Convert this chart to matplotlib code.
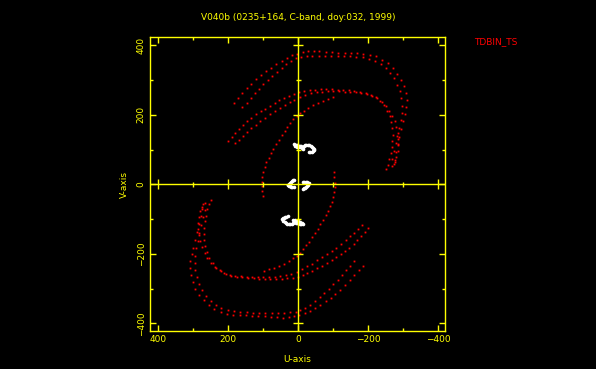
import numpy as np
import matplotlib
matplotlib.use("Agg")
import matplotlib.pyplot as plt

# uv tracks (upper half, in units of the plot); the lower half is the conjugate (-u, -v)
arc_a_u = [184, 172, 160, 147, 134, 120, 106, 92, 78, 63, 48, 33, 18, 3, -12, -28, -44, -60, -78, -96,
           -114, -132, -150, -168, -186, -204, -222, -240, -255, -270, -283, -294, -302, -308, -310, -309,
           -305, -300, -294, -289, -284, -279, -275]
arc_a_v = [235, 248, 262, 276, 290, 303, 315, 326, 336, 346, 356, 364, 371, 376, 380, 383, 384, 383, 381, 380,
           379, 378, 377, 377, 376, 373, 368, 359, 348, 334, 318, 300, 282, 262, 242, 222,
           202, 182, 160, 137, 115, 92, 70]

arc_b_u = [160, 148, 136, 124, 112, 100, 87, 74, 61, 48, 34, 20, 6, -8, -24, -40, -58, -76, -94, -112,
           -130, -148, -166, -184, -202, -220, -236, -250, -263, -274, -283, -290, -294, -296, -295, -292,
           -288, -283, -278, -273, -268]
arc_b_v = [222, 235, 248, 262, 275, 288, 300, 312, 324, 335, 346, 355, 363, 367, 368, 369, 369, 369, 369, 369,
           369, 368, 367, 365, 361, 355, 346, 335, 321, 305, 287, 268, 248, 226, 205, 184,
           162, 140, 118, 95, 74]

arc_c_u = [200, 190, 180, 169, 158, 146, 134, 121, 108, 95, 82, 68, 54, 40, 26, 12, -2, -16, -32, -48,
           -64, -80, -96, -112, -128, -144, -160, -176, -192, -207, -221, -234, -245, -254, -261, -266,
           -269, -270, -269, -267, -264, -260, -255, -250]
arc_c_v = [125, 137, 149, 160, 171, 182, 192, 201, 210, 218, 226, 234, 242, 249, 255, 261, 266, 269, 271, 272,
           273, 273, 273, 272, 271, 270, 268, 266, 263, 258, 250, 240, 227, 212, 196, 179,
           161, 143, 125, 107, 90, 72, 56, 45]

arc_d_u = [181, 170, 159, 147, 135, 122, 109, 95, 81, 67, 53, 39, 25, 11, -4, -20, -36, -52, -68, -84,
           -100, -116, -132, -148, -164, -180, -196, -211, -225, -238, -250, -260, -268, -275, -280, -284,
           -286, -286, -284, -280, -276, -272, -268]
arc_d_v = [118, 128, 139, 150, 161, 172, 182, 192, 201, 210, 219, 228, 236, 244, 251, 257, 262, 265, 267, 268,
           268, 268, 267, 266, 265, 263, 260, 255, 248, 238, 226, 212, 197, 181, 164, 147,
           130, 112, 95, 78, 65, 58, 53]

arc_e_u = [102, 103, 104, 105, 103, 100, 96, 91, 85, 78, 71, 63, 55, 47, 39, 31, 23, 14, 5, -5,
           -15, -28, -42, -56, -70, -84, -98]
arc_e_v = [-35, -20, -5, 8, 22, 36, 50, 63, 76, 89, 102, 115, 128, 141, 153, 165, 176, 187, 197, 205,
           211, 220, 228, 234, 240, 245, 250]

# short baselines (white)
short1_u = [12, 9, 6, 3, 0, -3, -6, -9, -12, -15, -19, -23, -27, -31, -35, -39, -43, -46, -45, -42, -38, -34, -30,
            10, 5, 0, -5, -10, -14]
short1_v = [115, 114, 113, 112, 111, 111, 110, 109, 108, 110, 113, 114, 114, 113, 111, 108, 105, 101, 98, 96, 94, 93, 92,
            110, 108, 107, 106, 104, 103]
short2_u = [12, 15, 18, 21, 24, 27, 29, 30, 28, 25, 21, 17, 13]
short2_v = [13, 12, 10, 8, 5, 2, -1, -3, -5, -6, -7, -7, -7]

red_arcs = [(arc_a_u, arc_a_v), (arc_b_u, arc_b_v), (arc_c_u, arc_c_v),
            (arc_d_u, arc_d_v), (arc_e_u, arc_e_v)]
white_arcs = [(short1_u, short1_v), (short2_u, short2_v)]

title = 'V040b (0235+164, C-band, doy:032, 1999)'
yellow = '#ffff00'

fig = plt.figure(figsize=(5.96, 3.69), dpi=100, facecolor='black')
ax = fig.add_axes([150/596, 1 - 331/369, 295/596, 294/369], facecolor='black')

for u, v in red_arcs:
    u = np.array(u)
    v = np.array(v)
    ax.plot(u, v, 's', color='#ff0000', ms=1.3, mew=0)
    ax.plot(-u, -v, 's', color='#ff0000', ms=1.3, mew=0)

for u, v in white_arcs:
    u = np.array(u)
    v = np.array(v)
    ax.plot(u, v, 'o', color='white', ms=2.6, mew=0)
    ax.plot(-u, -v, 'o', color='white', ms=2.6, mew=0)

# axes through the origin, with crossing ticks
ax.axhline(0, color=yellow, lw=1)
ax.axvline(0, color=yellow, lw=1)
major = [-400, -200, 200, 400]
minor = [-300, -100, 100, 300]
ax.plot(major, [0]*4, '|', color=yellow, ms=7, mew=1)
ax.plot(minor, [0]*4, '|', color=yellow, ms=3.6, mew=1)
ax.plot([0]*4, major, '_', color=yellow, ms=7, mew=1)
ax.plot([0]*4, minor, '_', color=yellow, ms=3.6, mew=1)

ax.set_xlim(423.7, -419)
ax.set_ylim(-422.2, 423.9)

ticks = [-400, -200, 0, 200, 400]
ax.set_xticks(ticks)
ax.set_yticks(ticks)
ax.set_xticks([-300, -100, 100, 300], minor=True)
ax.set_yticks([-300, -100, 100, 300], minor=True)
ax.tick_params(which='both', direction='in', top=True, right=True, colors=yellow,
               labelsize=6.5, width=1)
ax.tick_params(which='major', length=4.5, pad=3)
ax.tick_params(which='minor', length=2.5)
for lab in ax.get_yticklabels():
    lab.set_rotation(90)
    lab.set_va('center')
for s in ax.spines.values():
    s.set_color(yellow)
    s.set_linewidth(1)

ax.set_xlabel('U-axis', color=yellow, fontsize=6.5, labelpad=8)
ax.set_ylabel('V-axis', color=yellow, fontsize=6.5, labelpad=6)

fig.text(298/596, 1 - 17/369, title, color=yellow, fontsize=6.5, ha='center', va='center')
fig.text(474/596, 1 - 42/369, 'TDBIN_TS', color='#ff0000', fontsize=6.5, ha='left', va='center')

fig.savefig('out.png', dpi=100, facecolor='black')
